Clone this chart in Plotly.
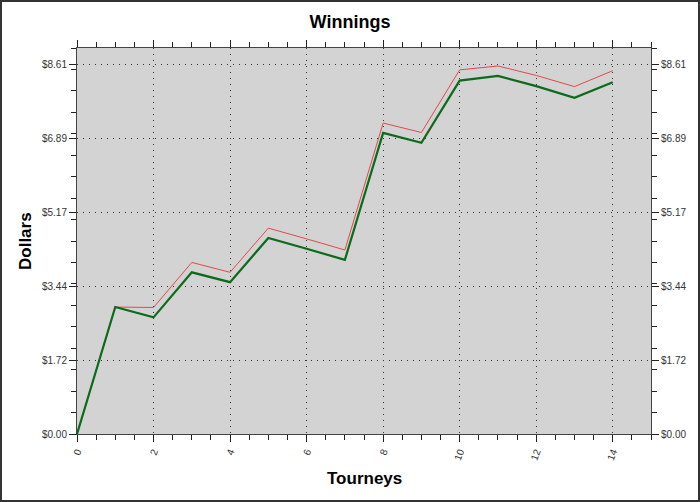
import plotly.graph_objects as go

tourneys = list(range(15))
# red line (thin) and green line (thick)
winnings_red = [0.00, 2.96, 2.95, 4.00, 3.77, 4.80, 4.55, 4.29, 7.25, 7.03, 8.49, 8.58, 8.36, 8.10, 8.47]
winnings_green = [0.00, 2.96, 2.72, 3.77, 3.54, 4.57, 4.32, 4.06, 7.02, 6.79, 8.24, 8.35, 8.11, 7.84, 8.20]

y_range = [0, 9]
x_range = [0, 15]
y_step = 1.722

fig = go.Figure()
fig.add_trace(go.Scatter(x=tourneys, y=winnings_red, mode='lines',
                         line=dict(color='#e04a4a', width=1), yaxis='y', showlegend=False))
fig.add_trace(go.Scatter(x=tourneys, y=winnings_green, mode='lines',
                         line=dict(color='#0b6b1a', width=2.2), yaxis='y2', showlegend=False))

tickfont = dict(family='Liberation Sans, Arial', size=10, color='#333')
grid = dict(showgrid=True, gridcolor='#333', griddash='1px,5px', gridwidth=1)
yax = dict(range=y_range, tickmode='linear', tick0=0, dtick=y_step, tickformat='$.2f',
           ticks='outside', ticklen=7, tickcolor='#222', tickwidth=1,
           showline=True, linecolor='#444', linewidth=1, zeroline=False,
           tickfont=tickfont, automargin=False, **grid,
           minor=dict(tickmode='linear', tick0=0, dtick=0.5, ticks='outside', ticklen=5,
                      tickcolor='#222', showgrid=False))

fig.update_layout(
    width=700, height=502,
    margin=dict(l=77, r=49, t=48, b=68),
    paper_bgcolor='white', plot_bgcolor='#d3d3d3',
    font=dict(family='Liberation Sans, Arial', color='black'),
    title=dict(text='<b>Winnings</b>', x=0.5, xref='container', xanchor='center',
               y=1 - 22 / 502, yanchor='middle', font=dict(size=18)),
    xaxis=dict(range=x_range, tickmode='linear', tick0=0, dtick=2, tickangle=-70,
               ticks='outside', ticklen=7, tickcolor='#222', mirror='ticks',
               showline=True, linecolor='#444', linewidth=1, zeroline=False,
               tickfont=tickfont, automargin=False, **grid,
               minor=dict(tickmode='linear', tick0=0, dtick=0.5, ticks='outside', ticklen=5,
                          tickcolor='#222', showgrid=False)),
    yaxis=dict(**yax, side='left'),
    yaxis2=dict(**yax, side='right', overlaying='y'),
    annotations=[
        dict(text='<b>Tourneys</b>', xref='paper', yref='paper', x=0.5, y=-44 / 386,
             xanchor='center', yanchor='middle', showarrow=False, font=dict(size=17)),
        dict(text='<b>Dollars</b>', xref='paper', yref='paper', x=-52 / 574, y=0.5,
             xanchor='center', yanchor='middle', textangle=-90, showarrow=False,
             font=dict(size=17)),
    ],
)

# thin dark frame around the whole picture
pw, ph = 700 - 77 - 49, 502 - 48 - 68
fig.add_shape(type='rect', xref='paper', yref='paper',
              x0=-76 / pw, x1=1 + 48 / pw, y0=-67 / ph, y1=1 + 47 / ph,
              line=dict(color='#333', width=2), layer='above')

fig.write_html("out.html", config={'displayModeBar': False},
               post_script="document.body.style.margin='0';")
